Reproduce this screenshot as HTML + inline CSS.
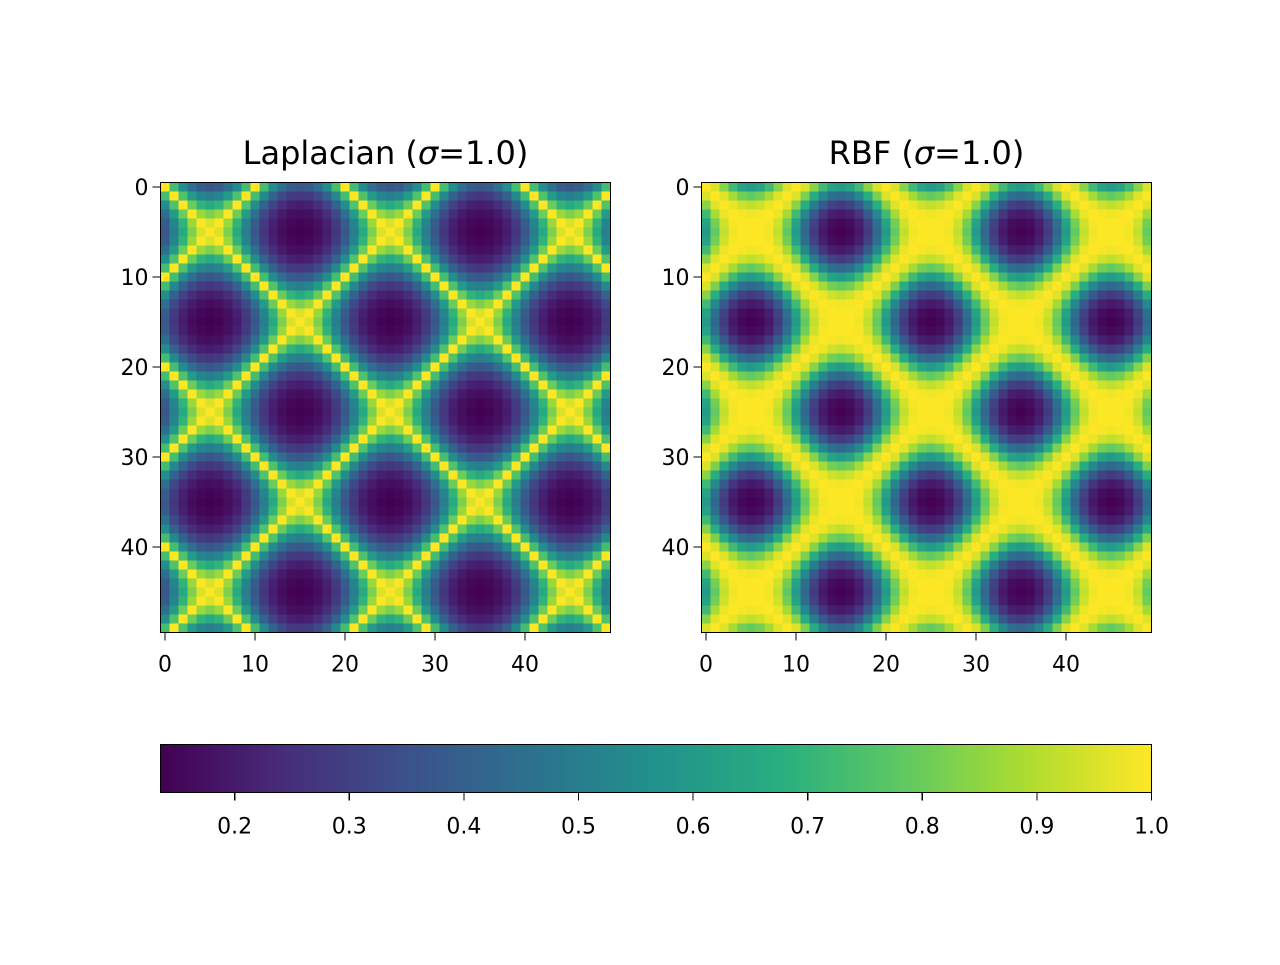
<!DOCTYPE html>
<html><head><meta charset="utf-8"><style>
body{margin:0;background:#fff;}
svg text{font-family:"DejaVu Sans","Liberation Sans",sans-serif;fill:#000;}
</style></head><body>
<svg id="fig" width="1280" height="960" xmlns="http://www.w3.org/2000/svg" shape-rendering="crispEdges"></svg>
<script>
const signal = [0,0.309,0.588,0.809,0.951,1,0.951,0.809,0.588,0.309,0,-0.309,-0.588,-0.809,-0.951,-1,-0.951,-0.809,-0.588,-0.309,
0,0.309,0.588,0.809,0.951,1,0.951,0.809,0.588,0.309,0,-0.309,-0.588,-0.809,-0.951,-1,-0.951,-0.809,-0.588,-0.309,
0,0.309,0.588,0.809,0.951,1,0.951,0.809,0.588,0.309];
const sigmas = [1.0, 1.0];
const titles = ["Laplacian", "RBF"];
const axisTicks = [0,10,20,30,40];
const cbTicks = [0.2,0.3,0.4,0.5,0.6,0.7,0.8,0.9,1.0];
const vmin = 0.1353, vmax = 1.0;

const NS="http://www.w3.org/2000/svg";
const svg=document.getElementById('fig');
function mk(t,a,p){const e=document.createElementNS(NS,t);for(const k in a)e.setAttribute(k,a[k]);(p||svg).appendChild(e);return e;}
const stops=["#440154","#472d7b","#3b528b","#2c728e","#21918c","#28ae80","#5ec962","#addc30","#fde725"].map(h=>[1,3,5].map(i=>parseInt(h.substr(i,2),16)));
function viridis(t){t=Math.max(0,Math.min(1,t));const s=t*8,i=Math.min(7,Math.floor(s)),f=s-i;const a=stops[i],b=stops[i+1];
return `rgb(${a.map((v,k)=>Math.round(v+(b[k]-v)*f)).join(',')})`;}
function kern(type,a,b,s){const d=Math.abs(a-b);return type===0?Math.exp(-d/s):Math.exp(-d*d/(2*s*s));}

const panels=[{x0:160.5},{x0:701.5}];
const y0=182.5, size=450, n=signal.length, cell=size/n;
const xs=(v,x0)=>x0+(v+0.5)*cell, ys=v=>y0+(v+0.5)*cell;

panels.forEach((p,pi)=>{
  const g=mk('g',{});
  
  
  for(let i=0;i<n;i++)for(let j=0;j<n;j++){
    const v=kern(pi,signal[i],signal[j],sigmas[pi]);
    const r=mk('rect',{x:(xs(j,p.x0)-cell/2).toFixed(2),y:(ys(i)-cell/2).toFixed(2),width:(cell+0.3).toFixed(2),height:(cell+0.3).toFixed(2),fill:viridis((v-vmin)/(vmax-vmin))},g);
    
    
  }
  const fr=mk('rect',{x:p.x0,y:y0,width:size,height:size,fill:'none',stroke:'#000','stroke-width':1.3},g);
  
  
  const t=mk('text',{x:p.x0+size/2,y:164,'font-size':32,'text-anchor':'middle'},g);
  t.innerHTML=titles[pi]+' (<tspan font-style="italic">σ</tspan>='+sigmas[pi].toFixed(1)+')';
  
  
  axisTicks.forEach(v=>{
    const x=xs(v,p.x0);
    mk('line',{x1:x,x2:x,y1:y0+size,y2:y0+size+8,stroke:'#000','stroke-width':1.2},g);
    const tx=mk('text',{x:x,y:y0+size+39,'font-size':22,'text-anchor':'middle'},g);
    tx.textContent=v;
    
    
    const y=ys(v);
    mk('line',{x1:p.x0-8,x2:p.x0,y1:y,y2:y,stroke:'#000','stroke-width':1.2},g);
    const ty=mk('text',{x:p.x0-12,y:y+8,'font-size':22,'text-anchor':'end'},g);
    ty.textContent=v;
    
    
  });
});

// colorbar
const cbx=160.5, cbw=991, cby=744.5, cbh=48;
const cb=mk('g',{});


const steps=256;
for(let k=0;k<steps;k++){
  mk('rect',{x:(cbx+k*cbw/steps).toFixed(2),y:cby,width:(cbw/steps+0.6).toFixed(2),height:cbh,fill:viridis(k/(steps-1))},cb);
}
const cbf=mk('rect',{x:cbx,y:cby,width:cbw,height:cbh,fill:'none',stroke:'#000','stroke-width':1.3},cb);


const cs=v=>cbx+(v-vmin)/(vmax-vmin)*cbw;
cbTicks.forEach(v=>{
  const x=cs(v);
  mk('line',{x1:x,x2:x,y1:cby+cbh,y2:cby+cbh+8,stroke:'#000','stroke-width':1.2},cb);
  const t=mk('text',{x:x,y:cby+cbh+41,'font-size':22,'text-anchor':'middle'},cb);
  t.textContent=v.toFixed(1);
  
  
});
</script>
</body></html>
